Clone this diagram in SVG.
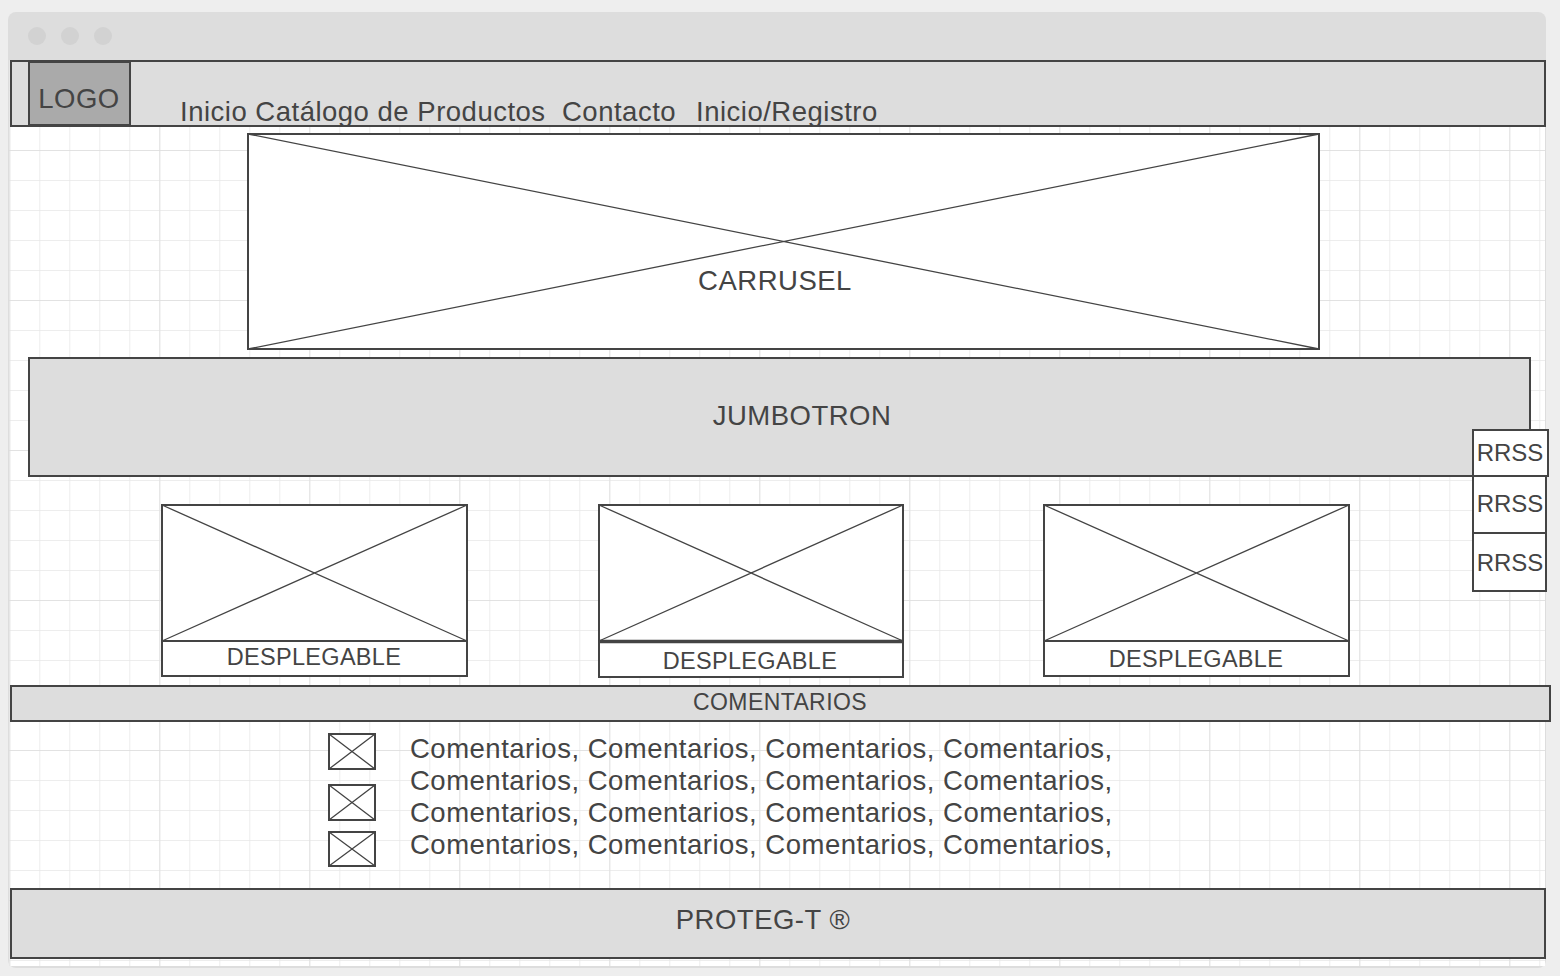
<svg xmlns="http://www.w3.org/2000/svg" width="1560" height="976" viewBox="0 0 1560 976">
<defs>
<pattern id="grid" x="9.3" y="0" width="30" height="30" patternUnits="userSpaceOnUse">
<path d="M0 0V30M0 0H30" fill="none" stroke="#e8e8e8" stroke-width="1.5"/>
</pattern>
<pattern id="gridMajor" x="9.3" y="0" width="150" height="150" patternUnits="userSpaceOnUse">
<path d="M0 0V150M0 0H150" fill="none" stroke="#dedede" stroke-width="1.5"/>
</pattern>
</defs>
<style>
.box{stroke:#444;stroke-width:2}
.gray{fill:#dddddd}
.white{fill:#ffffff}
.x{stroke:#444;stroke-width:1.3;fill:none}
text{font-family:"Liberation Sans",Arial,sans-serif;fill:#444}
.c{text-anchor:middle}
.big{font-size:27.5px;letter-spacing:0.5px}
.mid{font-size:23.5px;letter-spacing:0.3px}
</style>
<rect width="1560" height="976" fill="#eeeeee"/>
<g id="window">
<rect x="8" y="12" width="1538" height="956" rx="8" fill="#dddddd"/>
<rect x="9" y="60" width="1536" height="906" fill="#ffffff"/>
<rect x="9" y="60" width="1536" height="906" fill="url(#grid)"/>
<rect x="9" y="60" width="1536" height="906" fill="url(#gridMajor)"/>
<circle cx="37" cy="36" r="9" fill="#d2d2d2"/>
<circle cx="70" cy="36" r="9" fill="#d2d2d2"/>
<circle cx="103" cy="36" r="9" fill="#d2d2d2"/>
</g>
<g id="navbar">
<rect class="box gray" x="11" y="61" width="1534" height="65"/>
</g>
<g id="logo">
<rect class="box" fill="#aaaaaa" x="29" y="62" width="101" height="63"/>
<text x="79" y="108" class="c big">LOGO</text>
</g>
<g id="nav-links">
<text x="180" y="121" class="big">Inicio Catálogo de Productos</text>
<text x="562" y="121" class="big">Contacto</text>
<text x="696" y="121" class="big">Inicio/Registro</text>
</g>
<g id="carrusel">
<rect class="box white" x="248" y="134" width="1071" height="215"/>
<path class="x" d="M248 134L1319 349M1319 134L248 349"/>
<text x="775" y="290" class="c big">CARRUSEL</text>
</g>
<g id="jumbotron">
<rect class="box gray" x="29" y="358" width="1501" height="118"/>
<text x="802" y="425" class="c big">JUMBOTRON</text>
</g>
<g id="rrss1">
<rect class="box white" x="1473" y="430" width="75" height="46"/>
<text x="1510" y="461" class="c" font-size="24">RRSS</text>
</g>
<g id="rrss2">
<rect class="box white" x="1473" y="476" width="73" height="57"/>
<text x="1510" y="512" class="c" font-size="24">RRSS</text>
</g>
<g id="rrss3">
<rect class="box white" x="1473" y="533" width="73" height="58"/>
<text x="1510" y="571" class="c" font-size="24">RRSS</text>
</g>
<g id="desplegable1">
<rect class="box white" x="162" y="505" width="305" height="171"/>
<path class="x" d="M162 505L467 641M467 505L162 641"/>
<line class="box" x1="162" y1="641" x2="467" y2="641"/>
<text x="314" y="665" class="c mid">DESPLEGABLE</text>
</g>
<g id="desplegable2">
<rect class="box white" x="599" y="505" width="304" height="172"/>
<path class="x" d="M599 505L903 641M903 505L599 641"/>
<line stroke="#444" stroke-width="3.5" x1="599" y1="641.5" x2="903" y2="641.5"/>
<text x="750" y="669" class="c mid">DESPLEGABLE</text>
</g>
<g id="desplegable3">
<rect class="box white" x="1044" y="505" width="305" height="171"/>
<path class="x" d="M1044 505L1349 641M1349 505L1044 641"/>
<line class="box" x1="1044" y1="641" x2="1349" y2="641"/>
<text x="1196" y="667" class="c mid">DESPLEGABLE</text>
</g>
<g id="comentarios-bar">
<rect class="box gray" x="11" y="686" width="1539" height="35"/>
<text x="780" y="710" class="c" font-size="23" letter-spacing="0.4">COMENTARIOS</text>
</g>
<g id="avatar1">
<rect class="box white" x="329" y="734" width="46" height="35"/>
<path class="x" d="M329 734L375 769M375 734L329 769"/>
</g>
<g id="avatar2">
<rect class="box white" x="329" y="785" width="46" height="35"/>
<path class="x" d="M329 785L375 820M375 785L329 820"/>
</g>
<g id="avatar3">
<rect class="box white" x="329" y="832" width="46" height="34"/>
<path class="x" d="M329 832L375 866M375 832L329 866"/>
</g>
<g id="comentarios-text">
<text x="410" y="758" class="big">Comentarios, Comentarios, Comentarios, Comentarios,</text>
<text x="410" y="790" class="big">Comentarios, Comentarios, Comentarios, Comentarios,</text>
<text x="410" y="822" class="big">Comentarios, Comentarios, Comentarios, Comentarios,</text>
<text x="410" y="854" class="big">Comentarios, Comentarios, Comentarios, Comentarios,</text>
</g>
<g id="footer">
<rect class="box gray" x="11" y="889" width="1534" height="69"/>
<text x="763" y="929" class="c big">PROTEG-T ®</text>
</g>
<g id="connectors"></g>
</svg>
